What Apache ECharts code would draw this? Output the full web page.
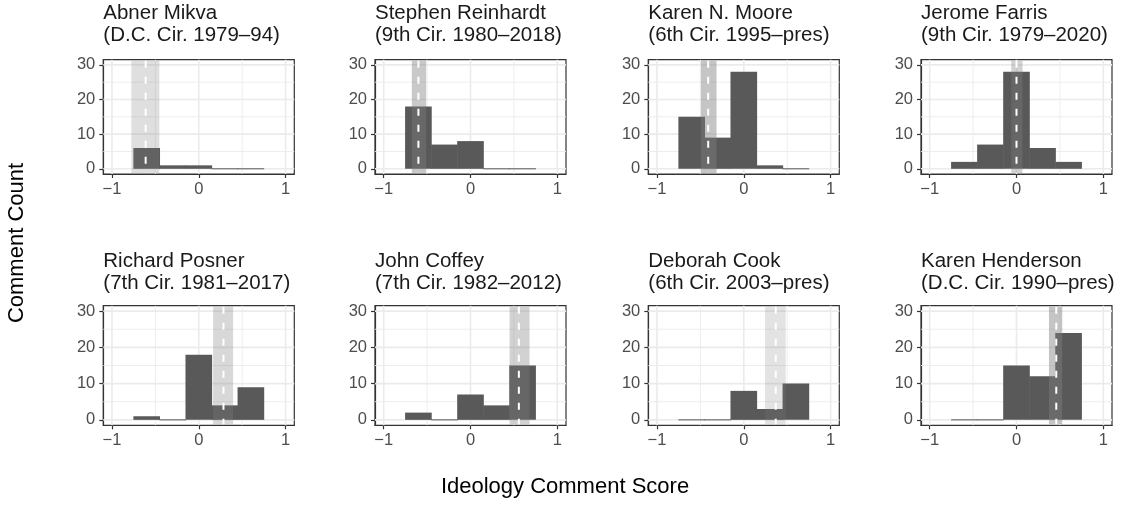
<!DOCTYPE html>
<html>
<head>
<meta charset="utf-8">
<script src="https://cdn.jsdelivr.net/npm/echarts@6/dist/echarts.min.js"></script>
<style>
html,body{margin:0;padding:0;background:#fff;}
#chart{width:1127px;height:520px;}
</style>
</head>
<body>
<div id="chart"></div>
<script>
// ---- data ----
const judgeNames = ["Abner Mikva","Stephen Reinhardt","Karen N. Moore","Jerome Farris","Richard Posner","John Coffey","Deborah Cook","Karen Henderson"];
const judgeCourts = ["(D.C. Cir. 1979\u201394)","(9th Cir. 1980\u20132018)","(6th Cir. 1995\u2013pres)","(9th Cir. 1979\u20132020)","(7th Cir. 1981\u20132017)","(7th Cir. 1982\u20132012)","(6th Cir. 2003\u2013pres)","(D.C. Cir. 1990\u2013pres)"];
const binEdges = [-0.75,-0.45,-0.15,0.15,0.45,0.75];
const countsMikva = [6,1,1,0,0];
const countsReinhardt = [18,7,8,0,0];
const countsMoore = [15,9,28,1,0];
const countsFarris = [2,7,28,6,2];
const countsPosner = [1,0,18,4,9];
const countsCoffey = [2,0,7,4,15];
const countsCook = [0,0,8,3,10];
const countsHenderson = [0,0,15,12,24];
const bandLow = [-0.777,-0.676,-0.494,-0.061,0.165,0.45,0.245,0.374];
const bandHigh = [-0.454,-0.511,-0.314,0.069,0.395,0.68,0.483,0.527];
const meanScore = [-0.612,-0.6,-0.41,0.0,0.284,0.557,0.368,0.458];
const bandAlpha = [0.25,0.42,0.45,0.35,0.3,0.35,0.22,0.45];
const xTicks = [-1,0,1];
const xMinorTicks = [-0.5,0.5];
const yTicks = [0,10,20,30];
const yMinorTicks = [5,15,25];
const xTitle = "Ideology Comment Score";
const yTitle = "Comment Count";

const allCounts = [countsMikva,countsReinhardt,countsMoore,countsFarris,countsPosner,countsCoffey,countsCook,countsHenderson];

// ---- layout ----
const FONT = "Liberation Sans, Arial, Helvetica, sans-serif";
const colLefts = [103.3,375,648.3,921];
const panelW = 191;
const rowTops = [59.7,305.7];
const rowHeights = [114.3,119.6];
const stripTops = [2,250];

const grids=[], xAxes=[], yAxes=[], series=[], titles=[];
const fmt = v => (v<0 ? "\u2212"+Math.abs(v) : String(v));

for (let i=0;i<8;i++){
  const r = Math.floor(i/4), c = i%4;
  grids.push({left:colLefts[c], top:rowTops[r], width:panelW, height:rowHeights[r],
    show:true, borderColor:'#333333', borderWidth:1.2, backgroundColor:'#ffffff'});
  xAxes.push({type:'value', gridIndex:i, min:-1.1, max:1.1,
    axisLine:{show:true, onZero:false, lineStyle:{color:'#333333', width:1.2}},
    axisTick:{show:true, length:4, customValues:xTicks, lineStyle:{color:'#333333', width:1.2}},
    axisLabel:{show:true, customValues:xTicks, formatter:fmt, color:'#4d4d4d', fontSize:16.5, fontFamily:FONT, margin:7},
    splitLine:{show:false}, minorTick:{show:false}});
  yAxes.push({type:'value', gridIndex:i, min:-1.5, max:31.5,
    axisLine:{show:true, onZero:false, lineStyle:{color:'#333333', width:1.2}},
    axisTick:{show:true, length:4, customValues:yTicks, lineStyle:{color:'#333333', width:1.2}},
    axisLabel:{show:true, customValues:yTicks, color:'#4d4d4d', fontSize:16.5, fontFamily:FONT, margin:8},
    splitLine:{show:false}});

  // grid lines
  const gl = [];
  xTicks.forEach(v=>gl.push([0,v,1]));
  xMinorTicks.forEach(v=>gl.push([0,v,0]));
  yTicks.forEach(v=>gl.push([1,v,1]));
  yMinorTicks.forEach(v=>gl.push([1,v,0]));
  series.push({type:'custom', xAxisIndex:i, yAxisIndex:i, z:1, silent:true, animation:false,
    data: gl, encode:{x:-1,y:-1},
    renderItem:function(params, api){
      const cs = params.coordSys;
      const dir = api.value(0), v = api.value(1), major = api.value(2);
      const st = {stroke: '#ebebeb', lineWidth: major ? 1.6 : 0.9};
      if (dir===0){
        const x = api.coord([v,0])[0];
        return {type:'line', shape:{x1:x,y1:cs.y,x2:x,y2:cs.y+cs.height}, style:st};
      } else {
        const y = api.coord([0,v])[1];
        return {type:'line', shape:{x1:cs.x,y1:y,x2:cs.x+cs.width,y2:y}, style:st};
      }
    }});

  // histogram bars
  const cnt = allCounts[i];
  series.push({type:'custom', xAxisIndex:i, yAxisIndex:i, z:2, silent:true, animation:false,
    data: cnt.map((v,k)=>[binEdges[k], binEdges[k+1], v]),
    encode:{x:[0,1], y:2},
    renderItem:function(params, api){
      const a = api.coord([api.value(0), api.value(2)]);
      const b = api.coord([api.value(1), 0]);
      let y = a[1], h = b[1]-a[1];
      if (h < 1) { y = b[1]-0.5; h = 1; }
      return {type:'rect', shape:{x:a[0]-0.3, y:y, width:b[0]-a[0]+0.6, height:h}, style:{fill:'#595959'}};
    }});

  // band + mean line
  series.push({type:'custom', xAxisIndex:i, yAxisIndex:i, z:3, silent:true, animation:false,
    data: [[bandLow[i], bandHigh[i], meanScore[i], bandAlpha[i]]],
    encode:{x:[0,1,2], y:-1},
    renderItem:function(params, api){
      const cs = params.coordSys;
      const l = api.coord([api.value(0),0])[0];
      const rr = api.coord([api.value(1),0])[0];
      const m = api.coord([api.value(2),0])[0];
      const al = api.value(3);
      return {type:'group', children:[
        {type:'rect', shape:{x:l, y:cs.y+1, width:rr-l, height:cs.height-2}, style:{fill:'rgba(127,127,127,'+al+')'}},
        {type:'line', shape:{x1:m, y1:cs.y+1, x2:m, y2:cs.y+cs.height-1}, style:{stroke:'#ffffff', lineWidth:2, lineDash:[7,9]}}
      ]};
    }});

  titles.push({text: judgeNames[i]+"\n"+judgeCourts[i], left:colLefts[c], top:stripTops[r], padding:0,
    textStyle:{fontSize:20.5, fontWeight:'normal', color:'#1a1a1a', lineHeight:22.5, fontFamily:FONT}});
}

const chart = echarts.init(document.getElementById('chart'), null, {renderer:'canvas'});
chart.setOption({
  animation:false,
  backgroundColor:'#ffffff',
  title: titles,
  grid: grids,
  xAxis: xAxes,
  yAxis: yAxes,
  series: series,
  graphic:[
    {type:'text', x:17, y:243, rotation:Math.PI/2, style:{text:yTitle, fontSize:22, fontFamily:FONT, fill:'#000', textAlign:'center', textVerticalAlign:'middle'}},
    {type:'text', x:565, y:487, style:{text:xTitle, fontSize:22, fontFamily:FONT, fill:'#000', textAlign:'center', textVerticalAlign:'middle'}}
  ]
});
</script>
</body>
</html>
